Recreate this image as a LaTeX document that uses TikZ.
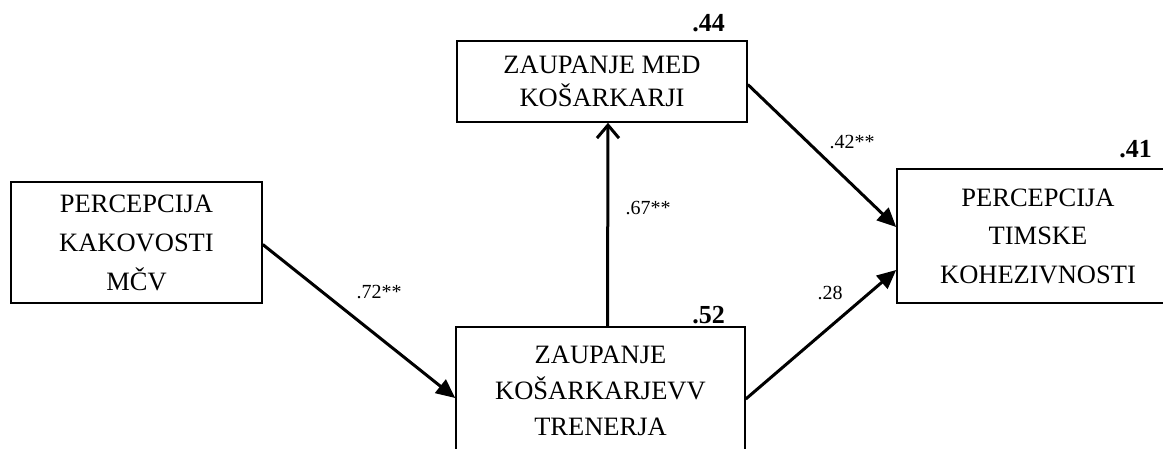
\documentclass[tikz,border=0pt]{standalone}
\usepackage{fontspec}
\setmainfont{Liberation Serif}
\usetikzlibrary{arrows.meta,calc}
\tikzset{
  varbox/.style={draw, line width=1.6pt, rectangle, align=center, inner sep=0pt},
  path/.style={line width=3pt, -{Triangle[length=19pt,width=17pt]}},
  pathopen/.style={line width=3pt, -{Straight Barb[length=13pt,width=22pt,line width=3pt]}},
  coef/.style={font=\fontsize{20}{24}\selectfont, inner sep=0pt},
  rsq/.style={font=\fontsize{26}{30}\selectfont\bfseries, inner sep=0pt, anchor=base east}
}
\begin{document}
\begin{tikzpicture}[x=1pt,y=1pt]
\useasboundingbox (0,0) rectangle (1163,448);
\clip (0,0) rectangle (1163,448);
\node[varbox, minimum width=251pt, minimum height=121pt, font=\fontsize{26.5}{39}\selectfont] (b1) at (136.5,205.5) {PERCEPCIJA\\KAKOVOSTI\\MČV};
\node[varbox, minimum width=289pt, minimum height=128pt, font=\fontsize{26.5}{36}\selectfont] (b2) at (600.5,57) {ZAUPANJE\\KOŠARKARJEVV\\TRENERJA};
\node[varbox, minimum width=290pt, minimum height=81pt, font=\fontsize{26.5}{33}\selectfont] (b3) at (602,366.5) {ZAUPANJE MED\\KOŠARKARJI};
\node[varbox, minimum width=282pt, minimum height=134pt, font=\fontsize{26.5}{38.5}\selectfont] (b4) at (1038,212) {PERCEPCIJA\\TIMSKE\\KOHEZIVNOSTI};
\draw[path] ([yshift=-2pt]b1.east) -- ([yshift=-7pt]b2.west);
\draw[pathopen] ([xshift=7pt]b2.north) -- ([xshift=6pt]b3.south);
\draw[path] ([yshift=-3pt]b3.east) -- ([yshift=9pt]b4.west);
\draw[path] ([yshift=-8pt]b2.east) -- ([yshift=-34pt]b4.west);
\node[coef] (l72) at (379,156) {.72**};
\node[coef] (l67) at (648,240) {.67**};
\node[coef] (l42) at (852,306) {.42**};
\node[coef] (l28) at (830,155) {.28};
\node[rsq] (r44) at (725,416) {.44};
\node[rsq] (r52) at (725,125) {.52};
\node[rsq] (r41) at (1152,290) {.41};
\end{tikzpicture}
\end{document}
